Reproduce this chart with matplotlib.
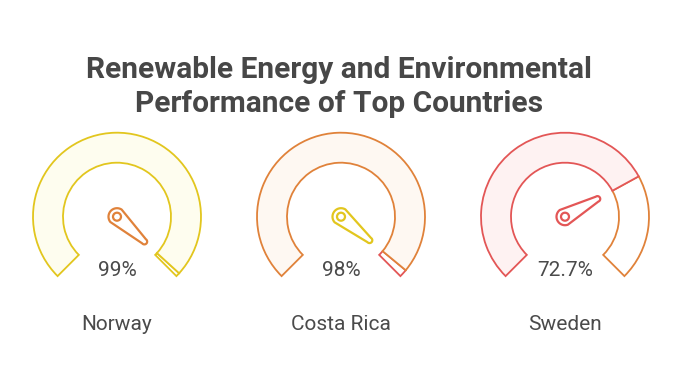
import numpy as np
import matplotlib
matplotlib.use("Agg")
import matplotlib.pyplot as plt
from matplotlib.patches import Wedge, Polygon, Circle

countries = ["Norway", "Costa Rica", "Sweden"]
values = [99.0, 98.0, 72.7]
value_labels = ["99%", "98%", "72.7%"]

YELLOW = "#E2C61E"
ORANGE = "#E0823A"
RED = "#E35656"
edge_colors = [YELLOW, ORANGE, RED]
fill_colors = ["#FEFDEF", "#FEF8F2", "#FEF2F2"]
rest_colors = [YELLOW, RED, ORANGE]
needle_colors = [ORANGE, YELLOW, RED]

W, H = 682, 387
centers_x = [117, 341, 565]
center_y = H - 216.7
R_OUT, BAND = 84, 30
START, SPAN = 225.0, 270.0


def needle(ax, cx, cy, ang, color):
    r1, r2, L = 8.5, 2.8, 37.0
    th = np.radians(ang)
    phi = np.arcsin((r1 - r2) / L)
    tx, ty = cx + L * np.cos(th), cy + L * np.sin(th)
    a = th + np.pi / 2 + phi
    b = th - np.pi / 2 - phi + 2 * np.pi
    hub = np.linspace(a, b, 40)
    tip = np.linspace(th - np.pi / 2 - phi, th + np.pi / 2 + phi, 20)
    pts = [(cx + r1 * np.cos(t), cy + r1 * np.sin(t)) for t in hub]
    pts += [(tx + r2 * np.cos(t), ty + r2 * np.sin(t)) for t in tip]
    ax.add_patch(Polygon(pts, closed=True, facecolor="white", edgecolor=color,
                         lw=1.6, joinstyle="round", zorder=5))
    ax.add_patch(Circle((cx, cy), 4.0, facecolor="white", edgecolor=color,
                        lw=1.6, zorder=6))


plt.rcParams["font.family"] = ["Roboto", "DejaVu Sans"]
fig = plt.figure(figsize=(W / 100, H / 100), dpi=100)
ax = fig.add_axes([0, 0, 1, 1])
ax.set_xlim(0, W)
ax.set_ylim(0, H)
ax.set_aspect("equal")
ax.axis("off")

for i, cx in enumerate(centers_x):
    v = values[i]
    split = START - v / 100 * SPAN
    ax.add_patch(Wedge((cx, center_y), R_OUT, START - SPAN, split, width=BAND,
                       facecolor="white", edgecolor=rest_colors[i], lw=1.3, zorder=2))
    ax.add_patch(Wedge((cx, center_y), R_OUT, split, START, width=BAND,
                       facecolor=fill_colors[i], edgecolor=edge_colors[i], lw=1.3, zorder=3))
    needle(ax, cx, center_y, split, needle_colors[i])
    ax.text(cx, H - 271, value_labels[i], ha="center", va="center",
            fontsize=15, color="#4a4a4a")
    ax.text(cx, H - 325, countries[i], ha="center", va="center",
            fontsize=15, color="#4a4a4a")

ax.text(W / 2 - 2, H - 70, "Renewable Energy and Environmental", ha="center",
        va="center", fontsize=21.5, fontweight="bold", color="#474747")
ax.text(W / 2 - 2, H - 104, "Performance of Top Countries", ha="center",
        va="center", fontsize=21.5, fontweight="bold", color="#474747")

fig.savefig("out.png", dpi=100)
